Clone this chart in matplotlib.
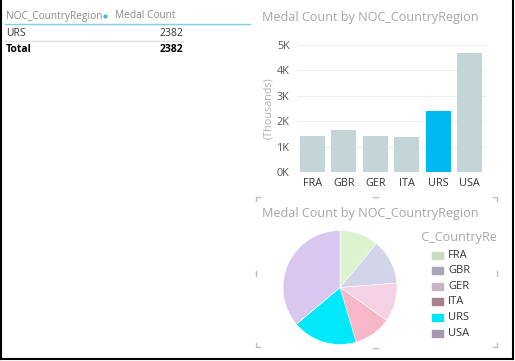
import matplotlib.pyplot as plt
from matplotlib.patches import Rectangle
from matplotlib.lines import Line2D
from matplotlib.transforms import Bbox
import numpy as np

plt.rcParams['font.family'] = ['Open Sans', 'DejaVu Sans']

countries = ['FRA', 'GBR', 'GER', 'ITA', 'URS', 'USA']
medals = [1430, 1640, 1420, 1380, 2382, 4670]
selected = 'URS'
table_rows = [('URS', 2382)]
table_total = 2382

bar_colors = ['#00b9f1' if c == selected else '#c3d5d7' for c in countries]
pie_colors = ['#dbf3cf', '#d3d3e9', '#f5d1e5', '#f8b7c9', '#00e9fb', '#d9c7ef']
legend_colors = ['#cadcc2', '#a7a7b5', '#c7b3c1', '#a6808c', '#00e5fa', '#a798b1']

W, H = 515, 361
fig = plt.figure(figsize=(W / 100, H / 100), dpi=100)


def px(x, y):
    return x / W, 1 - y / H


def box(x0, y0, x1, y1):
    return [x0 / W, 1 - y1 / H, (x1 - x0) / W, (y1 - y0) / H]


# outer border
for xs, ys in [((1, 1), (0, 359)), ((513, 513), (0, 359)), ((1, 513), (359, 359))]:
    fig.add_artist(Line2D([x / W for x in xs], [1 - y / H for y in ys],
                          color='black', lw=1.5))

# ---- table ----
fig.text(*px(6, 16), 'NOC_CountryRegion', color='#8a8a8a', fontsize=7.3, va='center')
fig.text(*px(115, 16), 'Medal Count', color='#8a8a8a', fontsize=7.3, va='center')
fig.add_artist(Line2D([105 / W], [1 - 16 / H], marker='o', ms=2, color='#3fb9e0'))
fig.add_artist(Line2D([5 / W, 250 / W], [1 - 24 / H] * 2, color='#7fd0ea', lw=1))
y = 33
for name, val in table_rows:
    fig.text(*px(6, y), name, color='#333333', fontsize=7.5, va='center')
    fig.text(*px(183, y), str(val), color='#333333', fontsize=7.5, va='center', ha='right')
    y += 17
fig.add_artist(Line2D([5 / W, 183 / W], [1 - 41 / H] * 2, color='#e2e2e2', lw=1))
fig.text(*px(6, 50), 'Total', color='black', fontsize=7.5, va='center', fontweight='bold')
fig.text(*px(183, 50), str(table_total), color='black', fontsize=7.5, va='center',
         ha='right', fontweight='bold')

# ---- bar chart ----
fig.text(*px(262, 18), 'Medal Count by NOC_CountryRegion', color='#a6a6a6',
         fontsize=9.1, va='center')
ax = fig.add_axes(box(298, 45, 487, 172))
x = np.arange(len(countries))
ax.bar(x, medals, width=0.8, color=bar_colors, zorder=2)
ax.set_xlim(-0.45, 5.55)
ax.set_ylim(0, 5000)
ax.set_yticks(np.arange(0, 5001, 1000))
ax.set_yticklabels([f'{v // 1000}K' for v in range(0, 5001, 1000)])
ax.set_xticks(x)
ax.set_xticklabels(countries)
ax.tick_params(length=0, labelsize=7.8, colors='#333333')
ax.tick_params(axis='y', pad=6, colors='#555555')
ax.tick_params(axis='x', pad=4)
ax.grid(axis='y', color='#eeeeee', lw=0.8, zorder=0)
for s in ax.spines.values():
    s.set_visible(False)
ax.set_ylabel('(Thousands)', color='#b0b0b0', fontsize=7.8, labelpad=2)

# ---- pie chart ----
fig.text(*px(262, 214), 'Medal Count by NOC_CountryRegion', color='#a6a6a6',
         fontsize=9.1, va='center')
pax = fig.add_axes(box(283, 230.5, 397, 344.5))
pax.pie(medals, colors=pie_colors, startangle=90, counterclock=False,
        wedgeprops=dict(edgecolor='white', linewidth=0.4))
pax.set_xlim(-1, 1)
pax.set_ylim(-1, 1)
pax.set_aspect('equal')

# legend title is cut off by the visual's edge, as in the report
lt = fig.text(*px(403, 238), 'NOC_CountryRegion', color='#a6a6a6', fontsize=9.1,
              va='center')
lt.set_clip_box(Bbox([[421, H - 250], [496, H - 225]]))
lt.set_clip_on(True)

for i, (c, col) in enumerate(zip(countries, legend_colors)):
    yy = 255 + i * 15.6
    fig.add_artist(Rectangle(px(432, yy + 3.5), 11 / W, 7 / H, color=col,
                             transform=fig.transFigure))
    fig.text(*px(448, yy), c, color='#333333', fontsize=8, va='center')

# focus brackets around the pie visual
bc = '#bdbdbd'
L = 4
marks = [
    [(256, 197 + L), (256, 197), (256 + L, 197)],
    [(497 - L, 197), (497, 197), (497, 197 + L)],
    [(256, 347 - L), (256, 347), (256 + L, 347)],
    [(497 - L, 347), (497, 347), (497, 347 - L)],
    [(373, 197), (378, 197)],
    [(373, 348), (378, 348)],
    [(256, 271), (256, 276)],
    [(497, 271), (497, 276)],
]
for m in marks:
    fig.add_artist(Line2D([p[0] / W for p in m], [1 - p[1] / H for p in m],
                          color=bc, lw=1))

fig.savefig('out.png', dpi=100)
